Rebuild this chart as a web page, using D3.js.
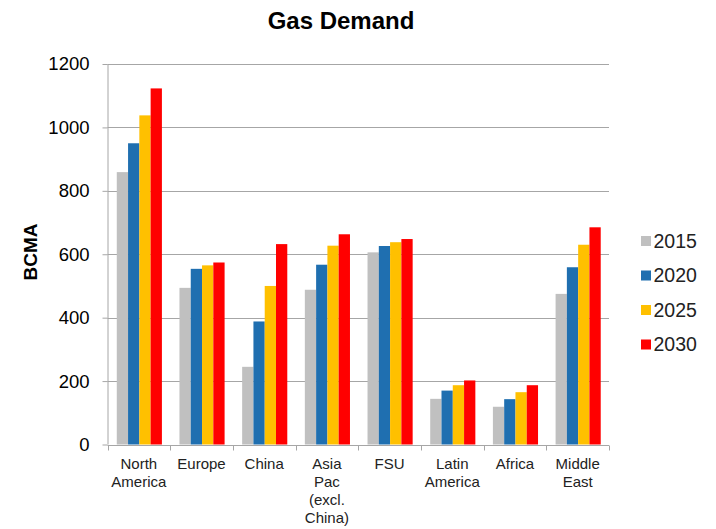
<!DOCTYPE html>
<html>
<head>
<meta charset="utf-8">
<script src="https://cdn.jsdelivr.net/npm/d3@7"></script>
<style>
  html, body { margin: 0; padding: 0; background: #fff; }
  svg { display: block; font-family: "Liberation Sans", Arial, sans-serif; }
</style>
</head>
<body>
<svg id="chart" width="716" height="529"></svg>
<script>
const categories = [["North","America"],["Europe"],["China"],["Asia","Pac","(excl.","China)"],["FSU"],["Latin","America"],["Africa"],["Middle","East"]];
const seriesNames = ["2015","2020","2025","2030"];
const s2015 = [859, 494, 245, 488, 606, 144, 119, 475];
const s2020 = [950, 554, 388, 567, 626, 170, 143, 559];
const s2025 = [1038, 565, 500, 627, 638, 187, 165, 630];
const s2030 = [1123, 574, 632, 663, 648, 202, 187, 685];
const seriesValues = [s2015, s2020, s2025, s2030];
const colors = ["#C0C0C0", "#1F6FB0", "#FFC000", "#FF0000"];
const yTicks = [0, 200, 400, 600, 800, 1000, 1200];

const svg = d3.select("#chart");
const pL = 107.5, pR = 609, pT = 64, pB = 444.5;

const x = d3.scaleBand().domain(d3.range(categories.length)).range([pL, pR]).paddingInner(0).paddingOuter(0);
const y = d3.scaleLinear().domain([0, 1200]).range([pB, pT]);
const groupW = x.bandwidth() * 0.72;
const xs = d3.scaleBand().domain(d3.range(seriesNames.length)).range([0, groupW]);

// gridlines
svg.append("g").selectAll("line").data(yTicks.filter(d => d > 0)).join("line")
  .attr("x1", pL).attr("x2", pR)
  .attr("y1", d => Math.round(y(d)) + 0.5).attr("y2", d => Math.round(y(d)) + 0.5)
  .attr("stroke", "#a6a6a6").attr("stroke-width", 1);

// bars
const groups = svg.append("g").selectAll("g").data(categories).join("g")
  .attr("transform", (d, i) => `translate(${x(i) + (x.bandwidth() - groupW) / 2 + 0.5},0)`);
groups.each(function(d, i) {
  d3.select(this).selectAll("rect").data(seriesValues.map((s, k) => ({k, v: s[i]}))).join("rect")
    .attr("x", e => xs(e.k))
    .attr("width", xs.bandwidth())
    .attr("y", e => y(e.v))
    .attr("height", e => pB - y(e.v))
    .attr("fill", e => colors[e.k]);
});

// y axis
const yAxis = svg.append("g").attr("transform", `translate(${pL},0)`)
  .call(d3.axisLeft(y).tickValues(yTicks).tickSize(5).tickPadding(13).tickFormat(d3.format("d")));
yAxis.select(".domain").attr("stroke", "#a6a6a6").attr("d", `M0.5,${pT}V${pB}`);
yAxis.selectAll(".tick line").attr("stroke", "#a6a6a6");
yAxis.selectAll(".tick text").attr("font-size", 18.5).attr("fill", "#000")
  .attr("font-family", "'Liberation Sans', Arial, sans-serif");

// x axis
const xAxis = svg.append("g").attr("transform", `translate(0,${Math.round(pB) + 0.5})`);
xAxis.append("line").attr("x1", pL).attr("x2", pR).attr("stroke", "#a6a6a6");
const xTickPos = d3.range(categories.length + 1).map(i => i < categories.length ? x(i) : pR);
xAxis.selectAll("line.t").data(xTickPos).join("line").attr("class", "t")
  .attr("x1", d => Math.round(d) + 0.5).attr("x2", d => Math.round(d) + 0.5)
  .attr("y1", 0).attr("y2", 5).attr("stroke", "#a6a6a6");
xAxis.selectAll("text").data(categories).join("text")
  .attr("text-anchor", "middle").attr("font-size", 15).attr("fill", "#222")
  .each(function(lines, i) {
    d3.select(this).selectAll("tspan").data(lines).join("tspan")
      .attr("x", x(i) + x.bandwidth() / 2)
      .attr("y", (l, j) => 23 + j * 18.3)
      .text(l => l);
  });

// title
svg.append("text").attr("x", 341).attr("y", 29).attr("text-anchor", "middle")
  .attr("font-size", 24).attr("font-weight", "bold").text("Gas Demand");

// y label
svg.append("text").attr("transform", `translate(37,252) rotate(-90)`)
  .attr("text-anchor", "middle").attr("font-size", 19).attr("font-weight", "bold").text("BCMA");

// legend
const legend = svg.append("g").selectAll("g").data(seriesNames).join("g")
  .attr("transform", (d, i) => `translate(641,${241 + i * 34.5})`);
legend.append("rect").attr("x", 0).attr("y", -5).attr("width", 10).attr("height", 10)
  .attr("fill", (d, i) => colors[i]);
legend.append("text").attr("x", 12.5).attr("y", 6.5).attr("font-size", 19.5).attr("fill", "#222").text(d => d);
</script>
</body>
</html>
